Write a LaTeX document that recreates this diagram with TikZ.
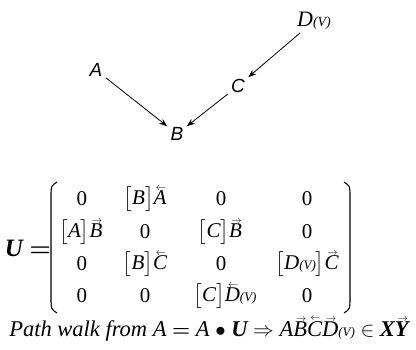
\documentclass[tikz,border=0pt]{standalone}
\usepackage{amsmath}
\usepackage{graphicx}
\usepackage{fontspec}
\setmainfont{Liberation Serif}
\newfontfamily\lsans{Liberation Sans}
\usetikzlibrary{arrows.meta}
\newcommand\myacc[2]{\leavevmode\vbox{\offinterlineskip\halign{\hfil##\hfil\cr\hspace{2pt}\scalebox{0.5}{$#1$}\cr\noalign{\kern0.3pt}#2\cr}}}
\newcommand\myra[1]{\myacc{\rightarrow}{#1}}
\newcommand\myla[1]{\myacc{\leftarrow}{#1}}
\newcommand\smv{{\fontsize{13}{13}\selectfont(V)}}
\begin{document}
\begin{tikzpicture}[x=1pt,y=-1pt,
  glabel/.style={font=\lsans\itshape\fontsize{19}{19}\selectfont, inner sep=1pt},
  entry/.style={font=\itshape\fontsize{21}{21}\selectfont, inner sep=0pt},
  edge/.style={-{Stealth[length=8pt,width=6pt]}, line width=0.8pt, shorten >=3pt, shorten <=3pt},
  paren/.style={line width=1.1pt}]
\useasboundingbox (0,0) rectangle (416,349);
% graph
\node[glabel] (A) at (96,70) {A};
\node[glabel] (B) at (177,134) {B};
\node[glabel] (C) at (238,86) {C};
\node[inner sep=1pt] (D) at (314,21) {\fontsize{22}{22}\selectfont\itshape D{\fontsize{14}{14}\selectfont(V)}};
\draw[edge] (A) -- (B);
\draw[edge] (C) -- (B);
\draw[edge] (D) -- (C);
% matrix
\node[inner sep=0pt] (U) at (28,248) {\fontsize{25}{25}\selectfont\bfseries\itshape U $\boldsymbol{=}$};
\node[entry] (m11) at (82,199) {\upshape 0};
\node[entry] (m12) at (145,199) {$\big[$B$\big]$\myla{A}};
\node[entry] (m13) at (221,199) {\upshape 0};
\node[entry] (m14) at (307,199) {\upshape 0};
\node[entry] (m21) at (81,232) {$\big[$A$\big]$\myra{B}};
\node[entry] (m22) at (145,232) {\upshape 0};
\node[entry] (m23) at (220,232) {$\big[$C$\big]$\myra{B}};
\node[entry] (m24) at (307,232) {\upshape 0};
\node[entry] (m31) at (82,264) {\upshape 0};
\node[entry] (m32) at (145,264) {$\big[$B$\big]$\myla{C}};
\node[entry] (m33) at (221,264) {\upshape 0};
\node[entry] (m34) at (307,264) {$\big[$D\smv$\big]$\myra{C}};
\node[entry] (m41) at (82,296) {\upshape 0};
\node[entry] (m42) at (145,296) {\upshape 0};
\node[entry] (m43) at (225,296) {$\big[$C$\big]$\myla{D}\smv};
\node[entry] (m44) at (307,296) {\upshape 0};
\coordinate (lt) at (57,182);
\coordinate (lb) at (57,313);
\coordinate (rt) at (344,182);
\coordinate (rb) at (344,313);
\draw[paren] (lt) .. controls (51,186) .. (51,197) -- (51,298) .. controls (51,309) .. (lb);
\draw[paren] (rt) .. controls (350,186) .. (350,197) -- (350,298) .. controls (350,309) .. (rb);
% bottom line
\node[inner sep=0pt] (P) at (209,329) {\fontsize{22.5}{22.5}\selectfont\itshape Path walk from A $\boldsymbol{=}$ A $\bullet$ {\bfseries U} $\Rightarrow$ A\myra{B}\myla{C}\myra{D}\smv{} $\in$ {\bfseries X\myra{Y}}};
\end{tikzpicture}
\end{document}
